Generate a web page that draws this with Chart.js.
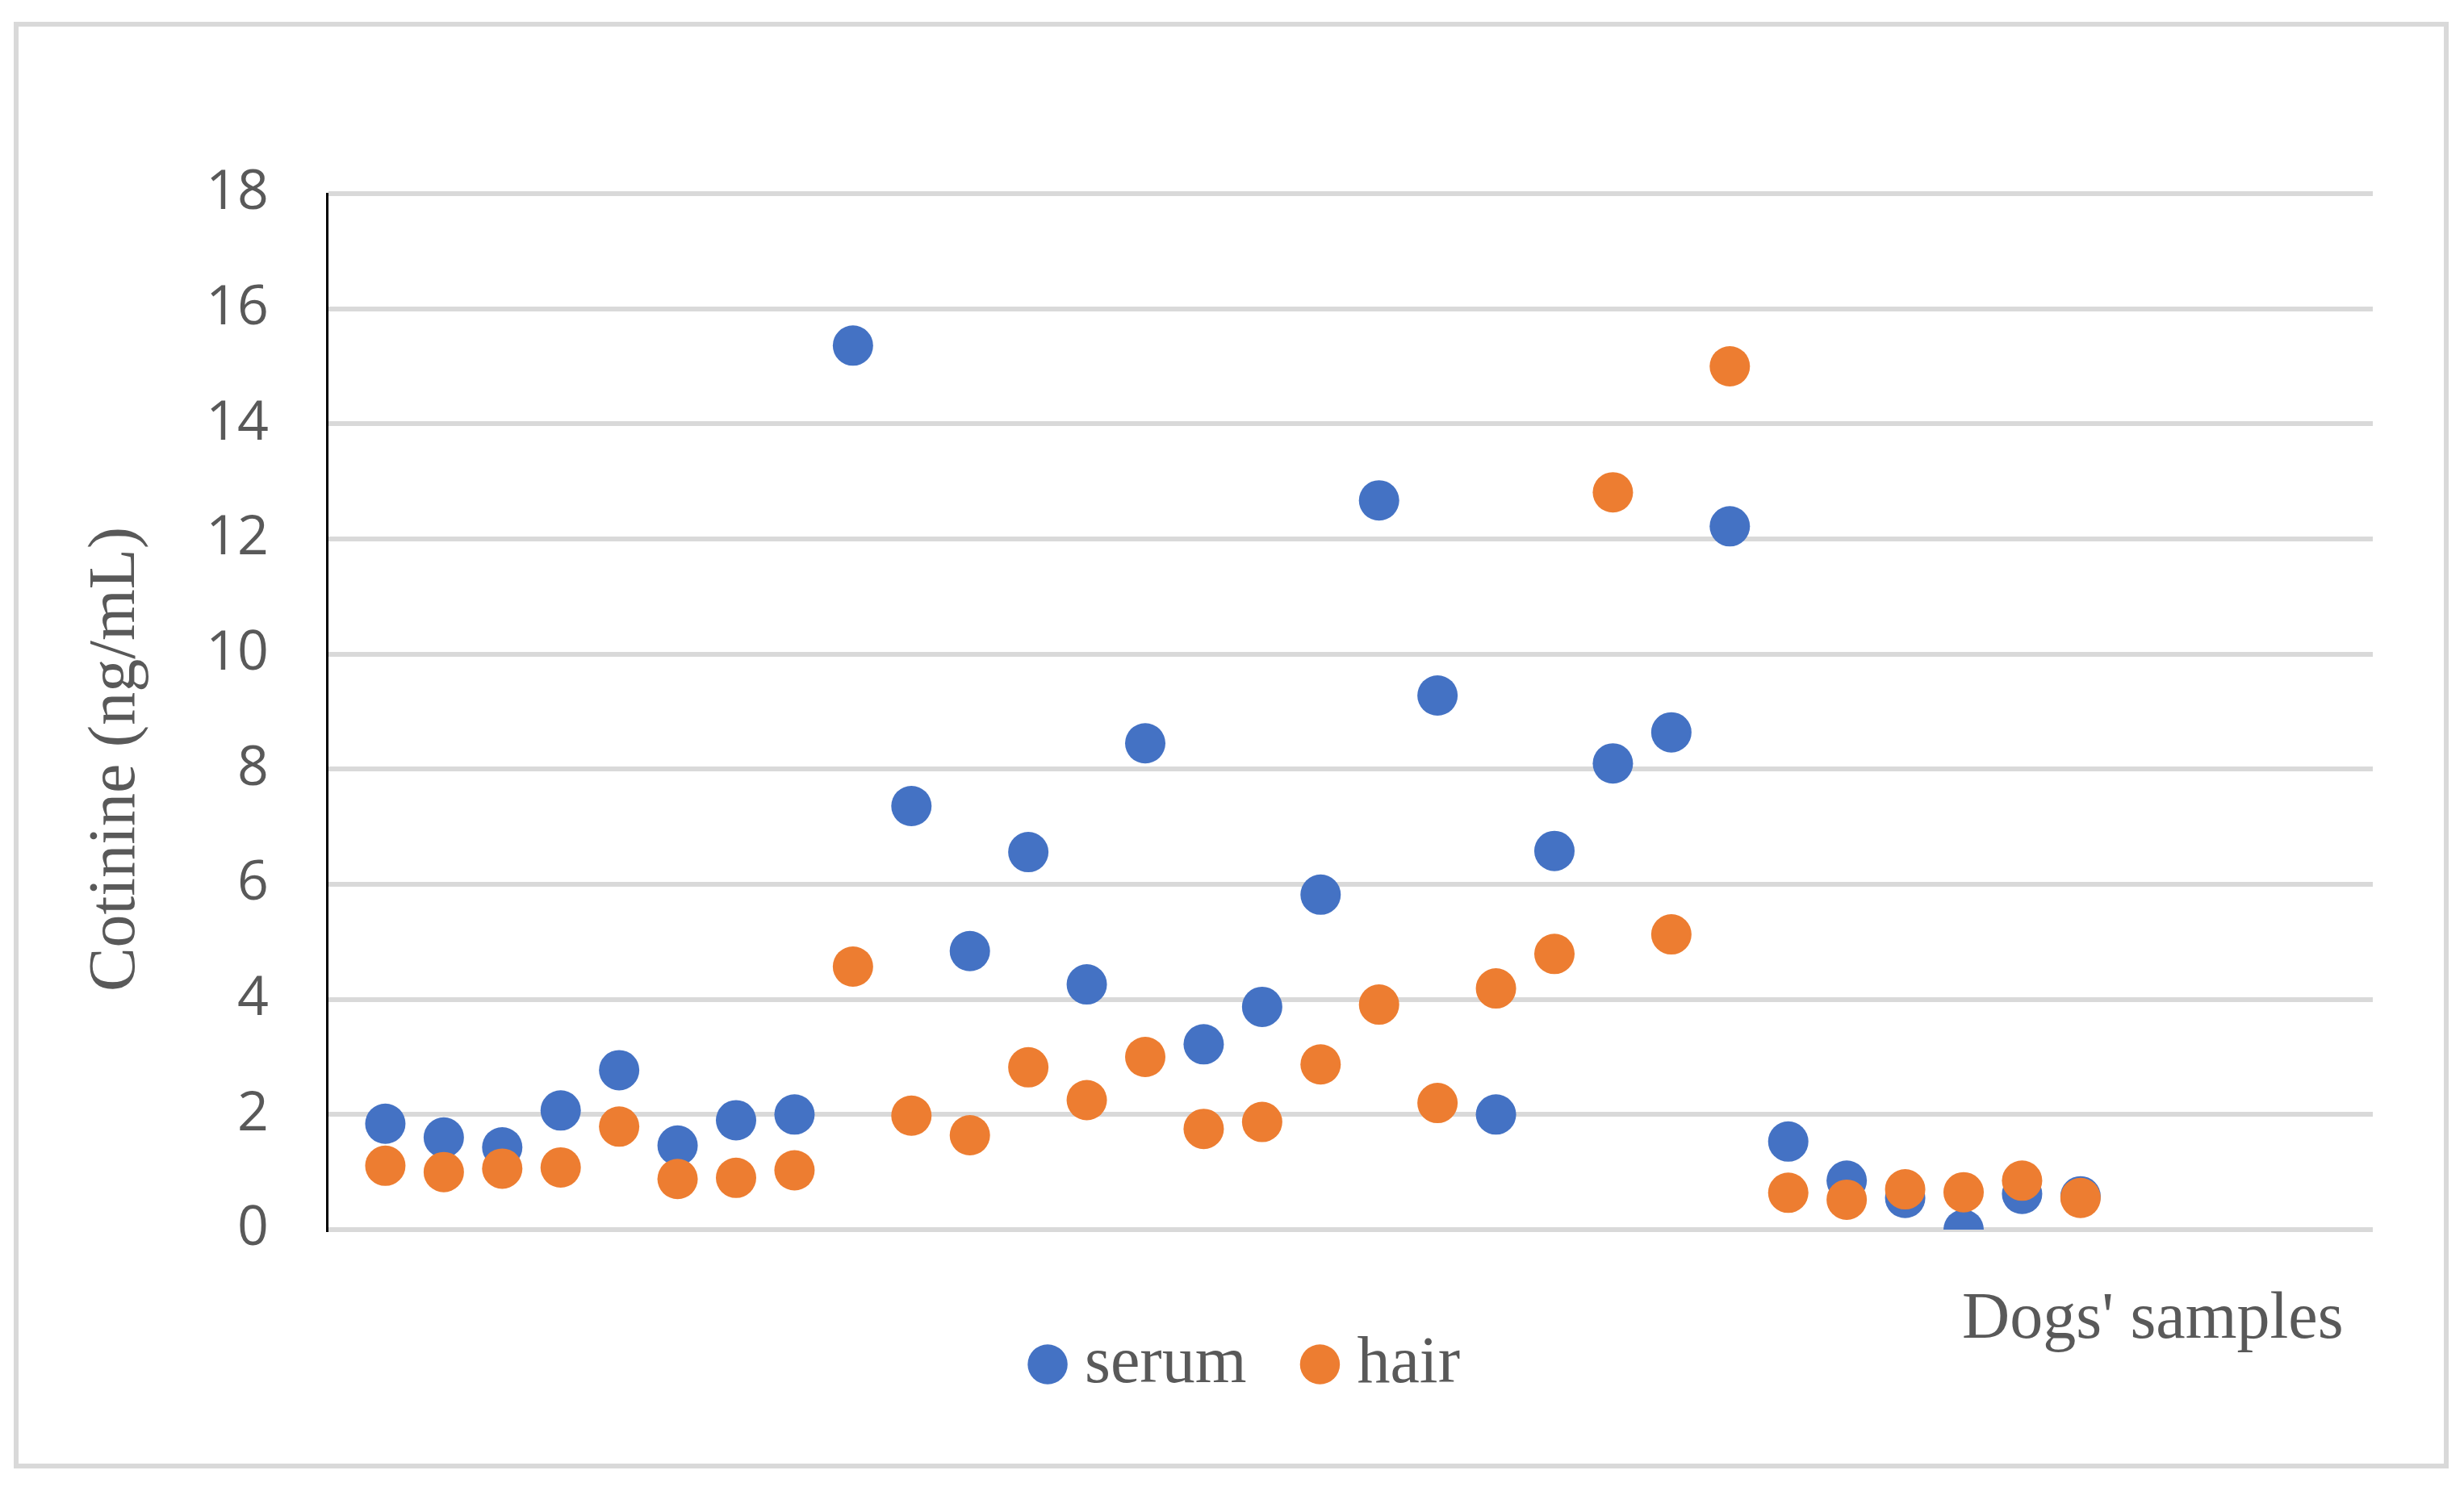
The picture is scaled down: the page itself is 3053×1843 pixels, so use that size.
<!DOCTYPE html>
<html>
<head>
<meta charset="utf-8">
<script src="https://cdn.jsdelivr.net/npm/chart.js@4/dist/chart.umd.min.js"></script>
<style>
    body { margin: 0; background: #ffffff; }
    canvas { display: block; }
</style>
</head>
<body>
<canvas id="myChart" width="3053" height="1843"></canvas>
<script>
const sampleIds = [1, 2, 3, 4, 5, 6, 7, 8, 9, 10, 11, 12, 13, 14, 15,
    16, 17, 18, 19, 20, 21, 22, 23, 24, 25, 26, 27, 28, 29, 30];
const serumValues = [1.84, 1.60, 1.43, 2.07, 2.77, 1.46, 1.90, 2.00, 15.36, 7.36,
    4.84, 6.56, 4.26, 8.45, 3.22, 3.87, 5.82, 12.67, 9.28, 2.00,
    6.58, 8.10, 8.64, 12.22, 1.53, 0.85, 0.55, 0.00, 0.62, 0.58];
const hairValues = [1.11, 1.00, 1.06, 1.08, 1.79, 0.88, 0.90, 1.03, 4.57, 1.98,
    1.64, 2.82, 2.25, 3.00, 1.75, 1.87, 2.87, 3.91, 2.20, 4.19,
    4.79, 12.81, 5.13, 15.00, 0.64, 0.52, 0.70, 0.65, 0.85, 0.55];
const seriesNames = ['serum', 'hair'];
const yTitle = 'Cotinine (ng/mL)';
const xTitle = "Dogs' samples";

const serifFont = '"Liberation Serif", "Times New Roman", serif';
const textColor = '#595959';

function toPoints(values) {
    return values.map((v, i) => ({ x: sampleIds[i], y: v }));
}

// Outer frame and the two axis titles
const framePlugin = {
    id: 'frameAndTitles',
    afterDraw(chart) {
        const ctx = chart.ctx;
        ctx.save();
        ctx.strokeStyle = '#d9d9d9';
        ctx.lineWidth = 6;
        ctx.strokeRect(20, 30, 3011, 1787);

        ctx.fillStyle = textColor;
        ctx.font = '82px ' + serifFont;
        ctx.textBaseline = 'alphabetic';

        ctx.textAlign = 'left';
        ctx.fillText(xTitle, 2431, 1658);

        ctx.translate(166, 941);
        ctx.rotate(-Math.PI / 2);
        ctx.textAlign = 'center';
        ctx.fillText(yTitle, 0, 0);
        ctx.restore();
    }
};

const ctx = document.getElementById('myChart');

const myChart = new Chart(ctx, {
    type: 'scatter',
    data: {
        datasets: [
            {
                label: seriesNames[0],
                data: toPoints(serumValues),
                backgroundColor: '#4472C4',
                borderWidth: 0,
                pointRadius: 25,
                order: 1
            },
            {
                label: seriesNames[1],
                data: toPoints(hairValues),
                backgroundColor: '#ED7D31',
                borderWidth: 0,
                pointRadius: 25,
                order: 0
            }
        ]
    },
    options: {
        responsive: false,
        animation: false,
        layout: {
            padding: { left: 162, right: 113, top: 240, bottom: 101 }
        },
        plugins: {
            tooltip: { enabled: false },
            legend: {
                position: 'bottom',
                labels: {
                    usePointStyle: true,
                    pointStyle: 'circle',
                    boxWidth: 10,
                    boxHeight: 35,
                    padding: 86,
                    color: textColor,
                    font: { family: serifFont, size: 82 },
                    sort: (a, b) => a.datasetIndex - b.datasetIndex
                }
            }
        },
        scales: {
            x: {
                type: 'linear',
                min: 0,
                max: 35,
                ticks: { display: false },
                grid: { display: false },
                border: { display: false },
                afterFit: (scale) => { scale.height = 40; }
            },
            y: {
                min: 0,
                max: 18,
                ticks: {
                    stepSize: 2,
                    padding: 72,
                    color: textColor,
                    font: { family: '"Open Sans", sans-serif', size: 68 }
                },
                grid: {
                    color: '#d9d9d9',
                    lineWidth: 6,
                    drawTicks: false
                },
                border: { color: '#000000', width: 3 },
                afterFit: (scale) => { scale.width = 243; }
            }
        }
    },
    plugins: [framePlugin]
});
</script>
</body>
</html>
